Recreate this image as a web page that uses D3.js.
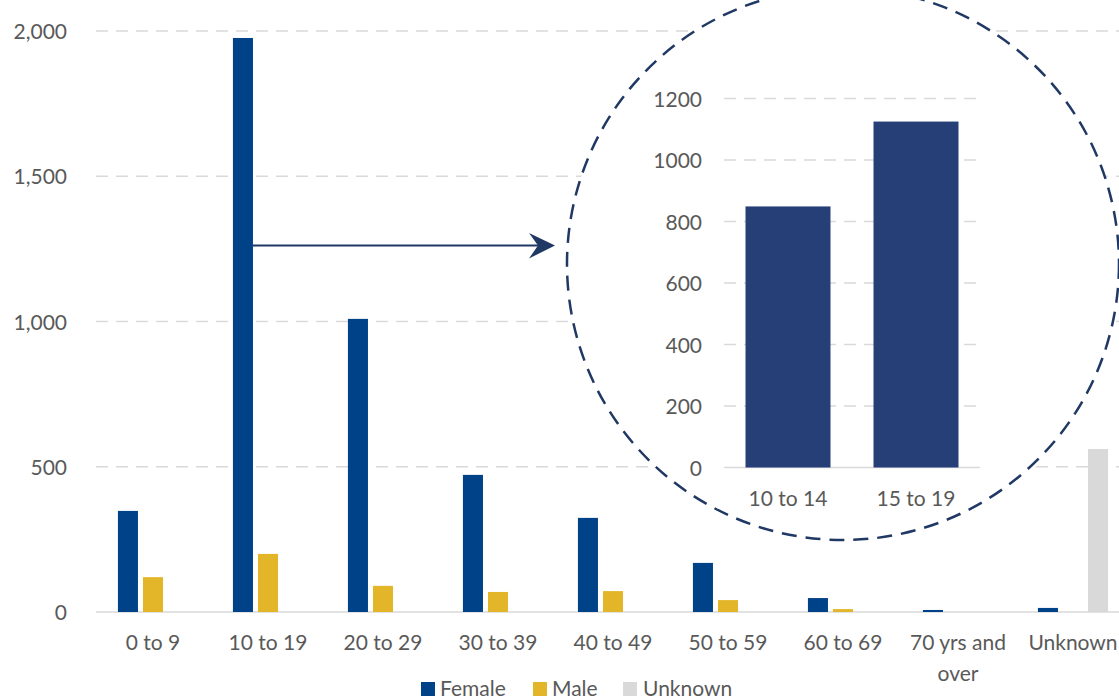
<!DOCTYPE html>
<html>
<head>
<meta charset="utf-8">
<script src="https://cdn.jsdelivr.net/npm/d3@7"></script>
<style>
  html, body { margin: 0; padding: 0; background: #fff; }
  svg { display: block; }
  text { font-family: Lato, "Open Sans", sans-serif; fill: #595959; }
</style>
</head>
<body>
<svg id="chart" width="1119" height="699"></svg>
<script>
// ---- data ----
const categories = ["0 to 9", "10 to 19", "20 to 29", "30 to 39", "40 to 49", "50 to 59", "60 to 69", "70 yrs and over", "Unknown"];
const seriesNames = ["Female", "Male", "Unknown"];
const femaleValues = [348, 1976, 1009, 472, 324, 169, 48, 7, 14];
const maleValues = [120, 200, 90, 69, 72, 41, 10, 0, 0];
const unknownValues = [0, 0, 0, 0, 0, 0, 0, 0, 561];
const yTicks = [0, 500, 1000, 1500, 2000];
const insetCategories = ["10 to 14", "15 to 19"];
const insetValues = [849, 1125];
const insetTicks = [0, 200, 400, 600, 800, 1000, 1200];
const colors = { Female: "#004287", Male: "#E3B62A", Unknown: "#D9D9D9" };

const svg = d3.select("#chart");
const fontSize = 21;

// ---- main chart scales ----
const x = d3.scaleBand().domain(categories).range([95.5, 1130.5]).paddingInner(0.39).paddingOuter(0.195);
const xSub = d3.scaleBand().domain(seriesNames).range([0, x.bandwidth()]).paddingInner(0.2);
const y = d3.scaleLinear().domain([0, 2000]).range([612, 31]);

// gridlines
svg.append("g").selectAll("line").data(yTicks.filter(d => d > 0)).join("line")
  .attr("x1", 96).attr("x2", 1119)
  .attr("y1", d => y(d)).attr("y2", d => y(d))
  .attr("stroke", "#D9D9D9").attr("stroke-width", 1.5).attr("stroke-dasharray", "12,8");

// baseline
svg.append("line").attr("x1", 96).attr("x2", 1119).attr("y1", y(0)).attr("y2", y(0))
  .attr("stroke", "#D9D9D9").attr("stroke-width", 1.5);

// y labels
svg.append("g").selectAll("text").data(yTicks).join("text")
  .attr("x", 67).attr("y", d => y(d) + 8)
  .attr("text-anchor", "end").attr("font-size", fontSize)
  .text(d => d3.format(",")(d));

// bars
const rows = categories.map((c, i) => ({ cat: c, Female: femaleValues[i], Male: maleValues[i], Unknown: unknownValues[i] }));
const groups = svg.append("g").selectAll("g").data(rows).join("g")
  .attr("transform", d => `translate(${x(d.cat)},0)`);
groups.selectAll("rect").data(d => seriesNames.map(s => ({ s, v: d[s] }))).join("rect")
  .attr("x", d => xSub(d.s)).attr("width", xSub.bandwidth())
  .attr("y", d => y(d.v)).attr("height", d => y(0) - y(d.v))
  .attr("fill", d => colors[d.s]);

// x labels
const xl = svg.append("g").selectAll("text").data(categories).join("text")
  .attr("text-anchor", "middle").attr("font-size", fontSize)
  .attr("x", d => x(d) + x.bandwidth() / 2).attr("y", 650);
xl.each(function (d) {
  const t = d3.select(this);
  if (d === "70 yrs and over") {
    t.append("tspan").attr("x", x(d) + x.bandwidth() / 2).attr("y", 650).text("70 yrs and");
    t.append("tspan").attr("x", x(d) + x.bandwidth() / 2).attr("y", 681).text("over");
  } else {
    t.text(d);
  }
});

// legend
const legendItems = [
  { name: "Female", sx: 421, tx: 440 },
  { name: "Male", sx: 533, tx: 552 },
  { name: "Unknown", sx: 623, tx: 643 }
];
const lg = svg.append("g").selectAll("g").data(legendItems).join("g");
lg.append("rect").attr("x", d => d.sx).attr("y", 682).attr("width", 14).attr("height", 14)
  .attr("fill", d => colors[d.name]);
lg.append("text").attr("x", d => d.tx).attr("y", 696).attr("font-size", fontSize).text(d => d.name);

// ---- zoom circle ----
const cx = 843, cy = 264, r = 276;
svg.append("circle").attr("cx", cx).attr("cy", cy).attr("r", r)
  .attr("fill", "#fff").attr("stroke", "#203864").attr("stroke-width", 2.5)
  .attr("stroke-dasharray", "15,9");

// inset scales
const xi = d3.scaleBand().domain(insetCategories).range([724, 980]).paddingInner(0.336).paddingOuter(0.168);
const yi = d3.scaleLinear().domain([0, 1200]).range([467.5, 98.5]);

svg.append("g").selectAll("line").data(insetTicks.filter(d => d > 0)).join("line")
  .attr("x1", 724).attr("x2", 980)
  .attr("y1", d => yi(d)).attr("y2", d => yi(d))
  .attr("stroke", "#D9D9D9").attr("stroke-width", 1.5).attr("stroke-dasharray", "12,8");
svg.append("line").attr("x1", 724).attr("x2", 980).attr("y1", yi(0)).attr("y2", yi(0))
  .attr("stroke", "#D9D9D9").attr("stroke-width", 1.5);

svg.append("g").selectAll("text").data(insetTicks).join("text")
  .attr("x", 702).attr("y", d => yi(d) + 8)
  .attr("text-anchor", "end").attr("font-size", fontSize).text(d => d);

svg.append("g").selectAll("rect").data(insetCategories.map((c, i) => ({ c, v: insetValues[i] }))).join("rect")
  .attr("x", d => xi(d.c)).attr("width", xi.bandwidth())
  .attr("y", d => yi(d.v)).attr("height", d => yi(0) - yi(d.v))
  .attr("fill", "#263F77");

svg.append("g").selectAll("text").data(insetCategories).join("text")
  .attr("x", d => xi(d) + xi.bandwidth() / 2).attr("y", 506)
  .attr("text-anchor", "middle").attr("font-size", fontSize).text(d => d);

// ---- arrow ----
const arrowY = 245.5;
const arrowStart = x("10 to 19") + xSub("Female") + xSub.bandwidth();
const arrowEnd = 555;
svg.append("line").attr("x1", arrowStart).attr("x2", arrowEnd - 14)
  .attr("y1", arrowY).attr("y2", arrowY)
  .attr("stroke", "#203864").attr("stroke-width", 2.2);
svg.append("path")
  .attr("d", `M${arrowEnd},${arrowY} L${arrowEnd - 26},${arrowY - 12.5} L${arrowEnd - 17},${arrowY} L${arrowEnd - 26},${arrowY + 13} Z`)
  .attr("fill", "#203864");
</script>
</body>
</html>
